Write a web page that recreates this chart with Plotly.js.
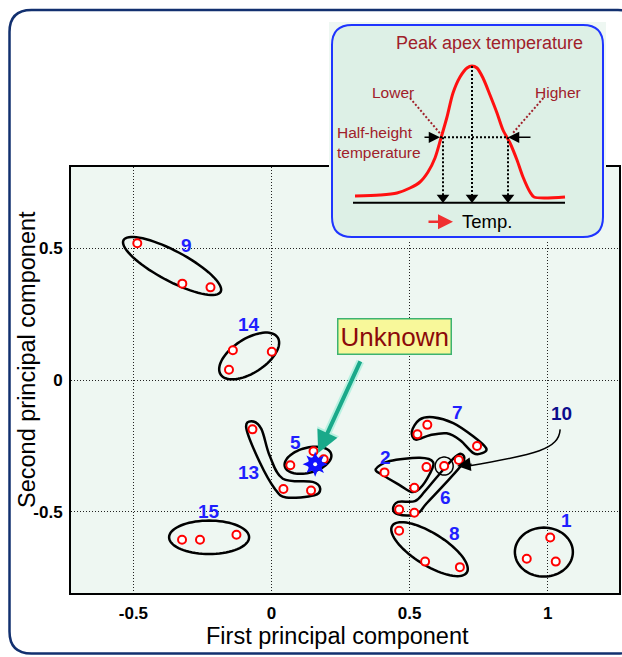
<!DOCTYPE html>
<html>
<head>
<meta charset="utf-8">
<script src="https://cdn.plot.ly/plotly-3.0.1.min.js"></script>
<style>html,body{margin:0;padding:0;background:#fff}#chart{width:622px;height:657px}</style>
</head>
<body>
<div id="chart"></div>
<script>
// ---------------- data ----------------
// PCA scores of the samples (first / second principal component) and their cluster
const sampleX = [1.009,0.924,1.029, 0.409,0.517,0.561, 0.068,0.152,0.189, 0.678,0.462,0.517,
                 0.564,0.528,0.744, 0.462,0.556,0.682, -0.486,-0.323,-0.221, 0.625,
                 -0.069,0.043,0.143, -0.140,0.001,-0.154, -0.324,-0.259,-0.127];
const sampleY = [-0.597,-0.677,-0.688, -0.350,-0.408,-0.330, -0.323,-0.270,-0.300, -0.303,-0.491,-0.503,
                 -0.170,-0.206,-0.250, -0.571,-0.688,-0.709, 0.518,0.365,0.351, -0.326,
                 -0.187,-0.413,-0.419, 0.113,0.107,0.039, -0.605,-0.605,-0.586];
const sampleGroup = ['1','1','1','2','2','2','5','5','5','6','6','6','7','7','7','8','8','8',
                     '9','9','9','10','13','13','13','14','14','14','15','15','15'];
// unknown sample
const unknownX = [0.158];
const unknownY = [-0.319];
// cluster labels
const groupLabels = ['1','2','5','6','7','8','9','10','13','14','15'];
const groupLabelX = [1.069,0.414,0.085,0.629,0.673,0.662,-0.307,1.051,-0.084,-0.080,-0.228];
const groupLabelY = [-0.534,-0.293,-0.238,-0.444,-0.122,-0.583,0.511,-0.126,-0.351,0.212,-0.499];
// tick labels
const xTickVals = [-0.5, 0, 0.5, 1];
const xTickText = ['-0.5', '0', '0.5', '1'];
const yTickVals = [-0.5, 0, 0.5];
const yTickText = ['-0.5', '0', '0.5'];
// inset: schematic DSC peak (temperature vs signal, arbitrary units)
const peakTemp   = [23,48,65,78,88,96,103,109,115,121,128,135,140,145,151,158,165,171,178,185,191,198,202,233];
const peakSignal = [41,42,44,49,55,65,79,99,120,144,160,169,171,169,159,142,124,107,94,77,60,45,40,40];
const markTemps = [111, 140, 176];   // lower half-height, apex, higher half-height

// ---------------- geometry helpers ----------------
const W = 622, H = 657;
const PL = 71, PR = 619, PT = 167, PB = 593;
const X_RANGE = [-0.726, 1.258], Y_RANGE = [-0.807, 0.807];
const KX = (PR - PL) / (X_RANGE[1] - X_RANGE[0]);
const KY = (PB - PT) / (Y_RANGE[1] - Y_RANGE[0]);

function ellipsePath(cx, cy, aPx, bPx, angDeg) {
  const t = angDeg * Math.PI / 180; let p = '';
  for (let k = 0; k <= 72; k++) {
    const u = 2 * Math.PI * k / 72;
    const dx = aPx * Math.cos(u) * Math.cos(t) - bPx * Math.sin(u) * Math.sin(t);
    const dy = aPx * Math.cos(u) * Math.sin(t) + bPx * Math.sin(u) * Math.cos(t);
    p += (k ? 'L' : 'M') + (cx + dx / KX).toFixed(4) + ',' + (cy + dy / KY).toFixed(4);
  }
  return p + 'Z';
}
function closedSpline(xs, ys) {
  const n = xs.length, P = i => [xs[(i + n) % n], ys[(i + n) % n]];
  let p = 'M' + xs[0] + ',' + ys[0];
  for (let i = 0; i < n; i++) {
    const p0 = P(i - 1), p1 = P(i), p2 = P(i + 1), p3 = P(i + 2);
    const c1 = [p1[0] + (p2[0] - p0[0]) / 6, p1[1] + (p2[1] - p0[1]) / 6];
    const c2 = [p2[0] - (p3[0] - p1[0]) / 6, p2[1] - (p3[1] - p1[1]) / 6];
    p += 'C' + c1[0].toFixed(4) + ',' + c1[1].toFixed(4) + ' ' + c2[0].toFixed(4) + ',' + c2[1].toFixed(4) + ' ' + p2[0].toFixed(4) + ',' + p2[1].toFixed(4);
  }
  return p + 'Z';
}
function roundRect(x0, y0, x1, y1, rx, ry) {
  return `M${x0 + rx},${y0} L${x1 - rx},${y0} Q${x1},${y0} ${x1},${y0 + ry} L${x1},${y1 - ry} Q${x1},${y1} ${x1 - rx},${y1} L${x0 + rx},${y1} Q${x0},${y1} ${x0},${y1 - ry} L${x0},${y0 + ry} Q${x0},${y0} ${x0 + rx},${y0} Z`;
}

// cluster outlines (annotation drawing)
const ellipses = [
  [-0.360, 0.432, 55, 15, -28],
  [-0.081, 0.091, 34, 17, 33],
  [0.132, -0.304, 24, 12.5, 15],
  [0.572, -0.641, 44, 16, -32],
  [0.986, -0.652, 29, 24.5, 0],
  [-0.226, -0.596, 40, 16.7, 0]
];
const blobs = [
  [[-0.073,-0.037,-0.007,0.041,0.149,0.176,0.155,0.053,0.011,-0.043,-0.091],
   [-0.156,-0.185,-0.286,-0.374,-0.386,-0.411,-0.437,-0.445,-0.411,-0.311,-0.185]],
  [[0.508,0.536,0.585,0.658,0.730,0.777,0.763,0.731,0.683,0.634,0.573,0.522],
   [-0.195,-0.150,-0.141,-0.163,-0.213,-0.258,-0.277,-0.277,-0.228,-0.202,-0.209,-0.226]],
  [[0.377,0.428,0.537,0.585,0.573,0.537,0.507,0.465,0.404],
   [-0.338,-0.307,-0.295,-0.311,-0.355,-0.411,-0.424,-0.399,-0.361]],
  [[0.440,0.458,0.519,0.555,0.609,0.658,0.683,0.698,0.683,0.621,0.561,0.537,0.513,0.458],
   [-0.489,-0.462,-0.459,-0.422,-0.355,-0.298,-0.279,-0.295,-0.329,-0.401,-0.468,-0.499,-0.512,-0.509]]
];

const shapes = [];
// outer rounded frame
shapes.push({type:'path', xref:'paper', yref:'paper', layer:'below',
  path: roundRect(9.5/W, 1 - 653.5/H, 640/W, 1 - 10/H, 22/W, 22/H),
  line:{color:'#12306f', width:2.5}, fillcolor:'rgba(0,0,0,0)'});
ellipses.forEach(e => shapes.push({type:'path', xref:'x', yref:'y', layer:'between',
  path: ellipsePath(e[0], e[1], e[2], e[3], e[4]), line:{color:'#000', width:2.5}}));
blobs.forEach(b => shapes.push({type:'path', xref:'x', yref:'y', layer:'between',
  path: closedSpline(b[0], b[1]), line:{color:'#000', width:2.5}}));
// small circle marking sample 10
shapes.push({type:'path', xref:'x', yref:'y', layer:'between',
  path: ellipsePath(sampleX[21], sampleY[21], 9, 9, 0), line:{color:'#000', width:1.5}});
// curved pointer from label 10
shapes.push({type:'path', xref:'x', yref:'y', layer:'above',
  path: 'M1.045,-0.187 C1.040,-0.262 0.960,-0.282 0.712,-0.326', line:{color:'#000', width:1.5}});

// inset (x2/y2 coordinates, 1 unit = 1 px)
shapes.push({type:'path', xref:'x2', yref:'y2', layer:'below',
  path: roundRect(0, 0, 271, 212, 20, 20), line:{color:'#1f35ff', width:2}, fillcolor:'#ddf0e6'});
shapes.push({type:'line', xref:'x2', yref:'y2', x0:21, x1:233, y0:34.3, y1:34.3, line:{color:'#000', width:2}});
shapes.push({type:'line', xref:'x2', yref:'y2', x0:108, x1:176, y0:99.7, y1:99.7, line:{color:'#000', width:2, dash:'2px,2px'}});
shapes.push({type:'line', xref:'x2', yref:'y2', x0:markTemps[0], x1:markTemps[0], y0:99.7, y1:42, line:{color:'#000', width:2, dash:'2px,2px'}});
shapes.push({type:'line', xref:'x2', yref:'y2', x0:markTemps[1], x1:markTemps[1], y0:171, y1:42, line:{color:'#000', width:2, dash:'2px,2px'}});
shapes.push({type:'line', xref:'x2', yref:'y2', x0:markTemps[2], x1:markTemps[2], y0:99.7, y1:42, line:{color:'#000', width:2, dash:'2px,2px'}});
shapes.push({type:'line', xref:'x2', yref:'y2', x0:78, x1:108, y0:139, y1:103.7, line:{color:'#a0202a', width:2, dash:'2px,2px'}});
shapes.push({type:'line', xref:'x2', yref:'y2', x0:211.3, x1:180.7, y0:139, y1:103.7, line:{color:'#a0202a', width:2, dash:'2px,2px'}});

const FONT = 'Arial, Liberation Sans';
const annotations = [];
groupLabels.forEach((t, i) => annotations.push({xref:'x', yref:'y', x:groupLabelX[i], y:groupLabelY[i],
  text:t, showarrow:false, font:{family:FONT, size:19, color: t === '10' ? '#0c0c8c' : '#1f1fff', weight:'bold'}}));
// "Unknown" callout
annotations.push({xref:'x', yref:'y', axref:'x', ayref:'y', x:0.169, y:-0.277, ax:0.324, ay:0.076,
  showarrow:true, text:'', arrowhead:2, arrowsize:0.6, arrowwidth:8, arrowcolor:'rgba(120,235,205,0.45)'});
annotations.push({xref:'x', yref:'y', axref:'x', ayref:'y', x:0.169, y:-0.277, ax:0.324, ay:0.076,
  showarrow:true, text:'', arrowhead:2, arrowsize:1.1, arrowwidth:4, arrowcolor:'#19a98a'});
annotations.push({xref:'x', yref:'y', x:0.444, y:0.164, text:'Unknown', showarrow:false,
  font:{family:FONT, size:26, color:'#8b0a0a'}, bgcolor:'#f8f89a', bordercolor:'#3cb371', borderwidth:1.5, borderpad:2});
// arrowhead for label 10
annotations.push({xref:'x', yref:'y', axref:'x', ayref:'y', x:0.672, y:-0.326, ax:0.73, ay:-0.318,
  showarrow:true, text:'', arrowhead:2, arrowsize:1.8, arrowwidth:1.5, arrowcolor:'#000'});
// axis titles
annotations.push({xref:'paper', yref:'paper', x:337/W, y:1 - 636/H, xanchor:'center', yanchor:'middle',
  text:'First principal component', showarrow:false, font:{family:FONT, size:23.5, color:'#000'}});
annotations.push({xref:'paper', yref:'paper', x:27/W, y:1 - 360/H, xanchor:'center', yanchor:'middle',
  text:'Second principal component', showarrow:false, textangle:-90, font:{family:FONT, size:23.5, color:'#000'}});
// inset texts and arrows
const insetRed = '#a0202a';
annotations.push({xref:'x2', yref:'y2', x:157.5, y:194.3, text:'Peak apex temperature', showarrow:false, font:{family:FONT, size:18, color:insetRed}});
annotations.push({xref:'x2', yref:'y2', x:61.3, y:144.3, text:'Lower', showarrow:false, font:{family:FONT, size:15.5, color:insetRed}});
annotations.push({xref:'x2', yref:'y2', x:226.3, y:144.3, text:'Higher', showarrow:false, font:{family:FONT, size:15.5, color:insetRed}});
annotations.push({xref:'x2', yref:'y2', x:3, y:94.5, xanchor:'left', align:'left', text:'Half-height<br>temperature', showarrow:false, font:{family:FONT, size:15.5, color:insetRed}});
annotations.push({xref:'x2', yref:'y2', x:128, y:15.3, xanchor:'left', text:'Temp.', showarrow:false, font:{family:FONT, size:18.5, color:'#000'}});
annotations.push({xref:'x2', yref:'y2', axref:'x2', ayref:'y2', x:108, y:99.7, ax:91, ay:99.7, showarrow:true, text:'', arrowhead:2, arrowsize:1.5, arrowwidth:1.5, arrowcolor:'#000'});
annotations.push({xref:'x2', yref:'y2', axref:'x2', ayref:'y2', x:176, y:99.7, ax:200, ay:99.7, showarrow:true, text:'', arrowhead:2, arrowsize:1.5, arrowwidth:1.5, arrowcolor:'#000'});
annotations.push({xref:'x2', yref:'y2', axref:'x2', ayref:'y2', x:121, y:15.3, ax:95, ay:15.3, showarrow:true, text:'', arrowhead:2, arrowsize:1.2, arrowwidth:2.5, arrowcolor:'#f03030'});

const traces = [
  {type:'scatter', mode:'markers', x:sampleX, y:sampleY, text:sampleGroup, xaxis:'x', yaxis:'y',
   marker:{symbol:'circle', size:8, color:'#fff', line:{color:'#ff0000', width:2}}, hoverinfo:'x+y+text'},
  {type:'scatter', mode:'markers', x:unknownX, y:unknownY, marker:{symbol:'star-square', size:16, color:'#1010ff'}, hoverinfo:'skip'},
  {type:'scatter', mode:'markers', x:unknownX, y:unknownY, marker:{symbol:'star-diamond', size:18, color:'#1010ff'}, hoverinfo:'skip'},
  {type:'scatter', mode:'markers', x:unknownX, y:unknownY, marker:{symbol:'circle', size:4, color:'#fff'}, hoverinfo:'skip'},
  {type:'scatter', mode:'lines', x:peakTemp, y:peakSignal, xaxis:'x2', yaxis:'y2',
   line:{color:'#ff1010', width:3, shape:'spline', smoothing:0.8}, hoverinfo:'skip'},
  {type:'scatter', mode:'markers', x:markTemps, y:markTemps.map(() => 39.5), xaxis:'x2', yaxis:'y2',
   marker:{symbol:'triangle-down', size:11, color:'#000'}, hoverinfo:'skip'}
];

const tickFont = {family:FONT, size:17, color:'#000', weight:'bold'};
const layout = {
  width:W, height:H, margin:{l:0, r:0, t:0, b:0}, showlegend:false,
  paper_bgcolor:'#ffffff', plot_bgcolor:'#eef7f2',
  xaxis:{domain:[PL/W, PR/W], range:X_RANGE, tickvals:xTickVals, ticktext:xTickText, tickfont:tickFont,
         showgrid:true, gridcolor:'#222', gridwidth:1, griddash:'1px,2px', zeroline:false,
         showline:true, mirror:true, linecolor:'#000', linewidth:2, ticks:'', ticklabelstandoff:4, fixedrange:true},
  yaxis:{domain:[1 - PB/H, 1 - PT/H], range:Y_RANGE, tickvals:yTickVals, ticktext:yTickText, tickfont:tickFont,
         showgrid:true, gridcolor:'#222', gridwidth:1, griddash:'1px,2px', zeroline:false,
         showline:true, mirror:true, linecolor:'#000', linewidth:2, ticks:'', ticklabelstandoff:3, fixedrange:true},
  xaxis2:{domain:[329/W, 606/W], range:[-3, 274], visible:false, fixedrange:true, anchor:'y2'},
  yaxis2:{domain:[1 - 240/H, 1 - 22/H], range:[-3, 215], visible:false, fixedrange:true, anchor:'x2'},
  shapes:shapes, annotations:annotations
};
Plotly.newPlot('chart', traces, layout, {displayModeBar:false, staticPlot:true});
</script>
</body>
</html>
